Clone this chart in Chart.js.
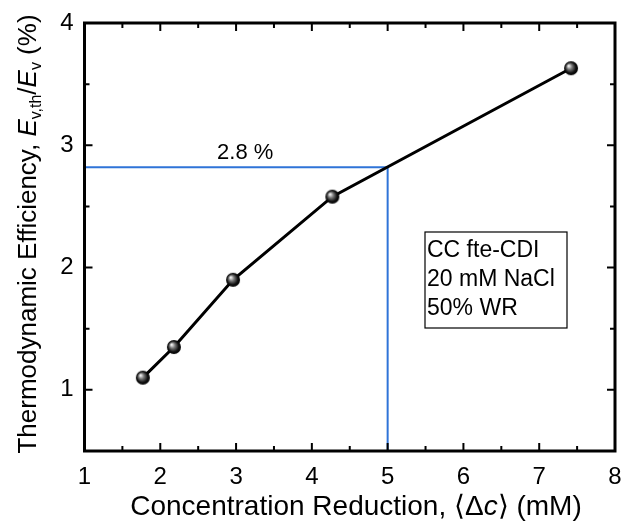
<!DOCTYPE html>
<html>
<head>
<meta charset="utf-8">
<script src="https://cdn.jsdelivr.net/npm/chart.js@4.4.1/dist/chart.umd.min.js"></script>
<style>
  body { margin: 0; background: #fff; }
  #wrap { width: 627px; height: 522px; }
</style>
</head>
<body>
<div id="wrap"><canvas id="effChart" width="627" height="522"></canvas></div>
<script>
// data
const concReduction = [1.77, 2.18, 2.96, 4.27, 7.42];
const efficiency = [1.10, 1.35, 1.90, 2.58, 3.63];
const xTicks = [1, 2, 3, 4, 5, 6, 7, 8];
const yTicks = [1, 2, 3, 4];
const guideX = 5;
const guideY = 2.82;
const guideLabel = "2.8 %";
const boxLines = ["CC fte-CDI", "20 mM NaCl", "50% WR"];

const FONT = "'Liberation Sans', Arial, sans-serif";

// shaded ball marker
function makeBall(r) {
  const c = document.createElement("canvas");
  c.width = c.height = r * 2 + 2;
  const g = c.getContext("2d");
  const cx = r + 1, cy = r + 1;
  const grad = g.createRadialGradient(cx - r * 0.35, cy - r * 0.35, 0.5, cx, cy, r);
  grad.addColorStop(0, "#f4f4f4");
  grad.addColorStop(0.35, "#777");
  grad.addColorStop(0.75, "#111");
  grad.addColorStop(1, "#000");
  g.fillStyle = grad;
  g.beginPath();
  g.arc(cx, cy, r, 0, Math.PI * 2);
  g.fill();
  return c;
}
const ball = makeBall(7);

// frame, inward ticks, guide lines, titles and text box
const decorations = {
  id: "decorations",
  beforeDatasetsDraw(chart) {
    const { ctx, chartArea: a, scales: { x, y } } = chart;
    ctx.save();
    ctx.strokeStyle = "#2f74d8";
    ctx.lineWidth = 2;
    ctx.beginPath();
    ctx.moveTo(a.left, y.getPixelForValue(guideY));
    ctx.lineTo(x.getPixelForValue(guideX), y.getPixelForValue(guideY));
    ctx.lineTo(x.getPixelForValue(guideX), a.bottom);
    ctx.stroke();
    ctx.fillStyle = "#000";
    ctx.font = "22px " + FONT;
    ctx.textAlign = "center";
    ctx.textBaseline = "bottom";
    ctx.fillText(guideLabel, x.getPixelForValue(3.12), y.getPixelForValue(guideY) - 3);
    ctx.restore();
  },
  afterDraw(chart) {
    const { ctx, chartArea: a, scales: { x, y } } = chart;
    ctx.save();
    ctx.strokeStyle = "#000";
    ctx.lineWidth = 3;
    ctx.strokeRect(a.left, a.top, a.right - a.left, a.bottom - a.top);

    ctx.lineWidth = 2;
    ctx.beginPath();
    for (let v = 1; v <= 8; v += 0.5) {
      const px = x.getPixelForValue(v);
      const len = Number.isInteger(v) ? 8 : 5;
      ctx.moveTo(px, a.bottom); ctx.lineTo(px, a.bottom - len);
      ctx.moveTo(px, a.top); ctx.lineTo(px, a.top + len);
    }
    for (let v = 0.5; v <= 4; v += 0.5) {
      const py = y.getPixelForValue(v);
      const len = Number.isInteger(v) ? 8 : 5;
      ctx.moveTo(a.left, py); ctx.lineTo(a.left + len, py);
      ctx.moveTo(a.right, py); ctx.lineTo(a.right - len, py);
    }
    ctx.stroke();

    // text box
    const bx = 425, by = 232, bw = 142, bh = 96;
    ctx.lineWidth = 1.2;
    ctx.fillStyle = "#fff";
    ctx.fillRect(bx, by, bw, bh);
    ctx.strokeRect(bx, by, bw, bh);
    ctx.fillStyle = "#000";
    ctx.font = "23px " + FONT;
    ctx.textAlign = "left";
    ctx.textBaseline = "middle";
    boxLines.forEach((t, i) => ctx.fillText(t, bx + 2, by + 19 + i * 29));

    // axis titles with mixed styles
    function drawRuns(runs, cx, cy) {
      let w = 0;
      runs.forEach(r => { ctx.font = r.f; w += ctx.measureText(r.t).width; });
      let pos = cx - w / 2;
      runs.forEach(r => {
        ctx.font = r.f;
        ctx.fillText(r.t, pos, cy + (r.dy || 0));
        pos += ctx.measureText(r.t).width;
      });
    }
    ctx.textBaseline = "alphabetic";
    const xb = "28px " + FONT, xi = "italic 28px " + FONT;
    drawRuns([
      { t: "Concentration Reduction, \u27E8\u0394", f: xb },
      { t: "c", f: xi },
      { t: "\u27E9 (mM)", f: xb }
    ], 356, 515);

    const big = "26px " + FONT, it = "italic 26px " + FONT, sub = "16px " + FONT;
    ctx.translate(36, (a.top + a.bottom) / 2 - 3);
    ctx.rotate(-Math.PI / 2);
    drawRuns([
      { t: "Thermodynamic Efficiency, ", f: big },
      { t: "E", f: it },
      { t: "v,th", f: sub, dy: 5 },
      { t: "/", f: big },
      { t: "E", f: it },
      { t: "v", f: sub, dy: 5 },
      { t: " (%)", f: big }
    ], 0, 0);
    ctx.restore();
  }
};

new Chart(document.getElementById("effChart"), {
  type: "scatter",
  data: {
    datasets: [{
      data: concReduction.map((c, i) => ({ x: c, y: efficiency[i] })),
      showLine: true,
      borderColor: "#000",
      borderWidth: 3,
      pointStyle: ball,
      pointRadius: 7,
      pointHoverRadius: 7
    }]
  },
  options: {
    responsive: false,
    animation: false,
    layout: { padding: { top: 23, right: 12, left: 0, bottom: 0 } },
    plugins: { legend: { display: false }, tooltip: { enabled: false } },
    scales: {
      x: {
        type: "linear",
        min: 1, max: 8,
        afterBuildTicks: s => { s.ticks = xTicks.map(v => ({ value: v })); },
        afterFit: s => { s.height = 71; s.paddingRight = 0; s.paddingLeft = 0; },
        grid: { display: false, drawTicks: false },
        border: { display: false },
        ticks: { color: "#000", font: { size: 24, family: FONT }, padding: 12, maxRotation: 0 }
      },
      y: {
        type: "linear",
        min: 0.5, max: 4,
        afterBuildTicks: s => { s.ticks = yTicks.map(v => ({ value: v })); },
        afterFit: s => { s.width = 84.5; s.paddingTop = 0; s.paddingBottom = 0; },
        grid: { display: false, drawTicks: false },
        border: { display: false },
        ticks: { color: "#000", font: { size: 24, family: FONT }, padding: 11 }
      }
    }
  },
  plugins: [decorations]
});
</script>
</body>
</html>
